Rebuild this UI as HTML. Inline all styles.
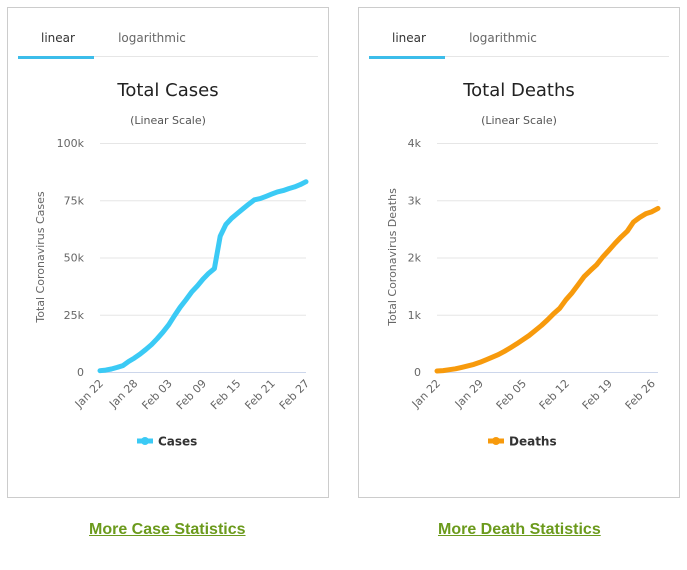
<!DOCTYPE html>
<html><head><meta charset="utf-8">
<style>
body{margin:0;width:687px;height:570px;background:#fff;font-family:"Liberation Sans",sans-serif;position:relative;overflow:hidden}
.panel{position:absolute;top:7px;width:322px;height:491px;border:1px solid #ccc;box-sizing:border-box}
.link{position:absolute;top:521px;font-size:16px;font-weight:bold;color:#6b9a1c;text-decoration:underline;white-space:nowrap}
svg{position:absolute;left:0;top:0}
svg text.t{font-family:"DejaVu Sans",sans-serif}
</style></head><body>
<div class="panel" style="left:7px"></div>
<div class="panel" style="left:358px"></div>
<a class="link" style="left:89px">More Case Statistics</a>
<a class="link" style="left:438px">More Death Statistics</a>
<svg id="s" width="687" height="570"></svg>
<script>
const dates=["Jan 22","Jan 23","Jan 24","Jan 25","Jan 26","Jan 27","Jan 28","Jan 29","Jan 30","Jan 31","Feb 01","Feb 02","Feb 03","Feb 04","Feb 05","Feb 06","Feb 07","Feb 08","Feb 09","Feb 10","Feb 11","Feb 12","Feb 13","Feb 14","Feb 15","Feb 16","Feb 17","Feb 18","Feb 19","Feb 20","Feb 21","Feb 22","Feb 23","Feb 24","Feb 25","Feb 26","Feb 27"];
const cases=[580,845,1317,2015,2800,4581,6058,7813,9823,11950,14553,17391,20630,24545,28266,31439,34876,37552,40553,43099,45134,59287,64438,67100,69197,71329,73332,75184,75700,76677,77673,78651,79205,80087,80828,81820,83112];
const deaths=[17,25,41,56,80,106,132,170,213,259,304,362,426,492,565,638,724,813,910,1018,1115,1261,1383,1526,1669,1775,1873,2009,2126,2247,2360,2460,2618,2699,2763,2800,2858];
const caseTicks=[0,25000,50000,75000,100000];
const caseTickLabels=["0","25k","50k","75k","100k"];
const deathTicks=[0,1000,2000,3000,4000];
const deathTickLabels=["0","1k","2k","3k","4k"];
const NS="http://www.w3.org/2000/svg";
const svg=document.getElementById('s');
function mk(t,a,txt){const e=document.createElementNS(NS,t);for(const k in a)e.setAttribute(k,a[k]);if(txt!==undefined)e.textContent=txt;svg.appendChild(e);return e;}
function chart(o){
  const ox=o.ox;
  const x=i=>o.x0+(o.x1-o.x0)*i/(dates.length-1);
  const y=v=>372-(372-143)*v/o.max;
  let e=mk('text',{x:ox+51,y:42,'font-size':12,fill:'#333','text-anchor':'middle',class:'t'},'linear');
  
  
  e=mk('text',{x:ox+145,y:42,'font-size':12,fill:'#666','text-anchor':'middle',class:'t'},'logarithmic');
  
  
  mk('line',{x1:ox+11,x2:ox+311,y1:56.5,y2:56.5,stroke:'#e6e6e6'});
  e=mk('rect',{x:ox+11,y:56,width:76,height:3,fill:'#3cbdea'});
  
  
  e=mk('text',{x:ox+161,y:96,'font-size':18,fill:'#222','text-anchor':'middle',class:'t'},o.title);
  
  
  e=mk('text',{x:ox+161,y:124,'font-size':11,fill:'#555','text-anchor':'middle',class:'t'},'(Linear Scale)');
  
  
  o.ticks.forEach((t,i)=>{
    mk('line',{x1:o.x0,x2:o.x1,y1:y(t)+.5,y2:y(t)+.5,stroke:i==0?'#ccd6eb':'#e6e6e6'});
    const l=mk('text',{x:o.x0-16,y:y(t)+4,'font-size':11,fill:'#666','text-anchor':'end',class:'t'},o.labels[i]);
    
    
  });
  e=mk('text',{x:0,y:0,'font-size':11,fill:'#666','text-anchor':'middle',class:'t',transform:`translate(${o.ax},${257}) rotate(-90)`},o.ytitle);
  
  
  for(let i=0;i<dates.length;i+=o.step){
    const l=mk('text',{x:0,y:0,'font-size':11,fill:'#666','text-anchor':'end',class:'t',transform:`translate(${x(i)+4},${384}) rotate(-45)`},dates[i]);
    
    
  }
  const p=mk('path',{d:o.data.map((v,i)=>(i?'L':'M')+x(i).toFixed(1)+' '+y(v).toFixed(1)).join(''),fill:'none',stroke:o.color,'stroke-width':5,'stroke-linejoin':'round','stroke-linecap':'round'});
  
  
  const lx=ox+130;
  mk('line',{x1:lx,x2:lx+16,y1:441,y2:441,stroke:o.color,'stroke-width':5});
  mk('circle',{cx:lx+8,cy:441,r:4,fill:o.color});
  e=mk('text',{x:lx+21,y:445.5,'font-size':12,'font-weight':'bold',fill:'#333',class:'t'},o.name);
  
  
}
chart({ox:7,x0:100,x1:306,max:100000,ticks:caseTicks,labels:caseTickLabels,data:cases,color:'#3bcaf5',title:'Total Cases',ytitle:'Total Coronavirus Cases',ax:44,step:6,name:'Cases'});
chart({ox:358,x0:437,x1:658,max:4000,ticks:deathTicks,labels:deathTickLabels,data:deaths,color:'#f79a0c',title:'Total Deaths',ytitle:'Total Coronavirus Deaths',ax:396,step:7,name:'Deaths'});
</script>
</body></html>
